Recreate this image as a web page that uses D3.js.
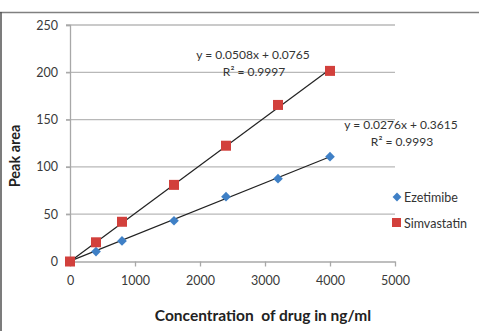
<!DOCTYPE html>
<html><head><meta charset="utf-8">
<script src="https://cdn.jsdelivr.net/npm/d3@7"></script>
<style>body{margin:0;background:#fff}svg{display:block}</style>
</head><body>
<script>
const concentrations = [0, 400, 800, 1600, 2400, 3200, 4000];
const ezetimibe = [0, 10.5, 21.7, 43.1, 68.5, 87.5, 110.8];
const simvastatin = [0, 20.3, 42, 81, 122.4, 165.5, 201.5];
const xTicks = [0, 1000, 2000, 3000, 4000, 5000];
const yTicks = [0, 50, 100, 150, 200, 250];
const trends = [
  {name: "Ezetimibe", slope: 0.0276, intercept: 0.3615, eq: "y = 0.0276x + 0.3615", r2: "R² = 0.9993"},
  {name: "Simvastatin", slope: 0.0508, intercept: 0.0765, eq: "y = 0.0508x + 0.0765", r2: "R² = 0.9997"}
];

const W = 479, H = 331;
const font = "Lato, 'Open Sans', sans-serif";
const svg = d3.select("body").append("svg").attr("width", W).attr("height", H);
svg.append("rect").attr("width", W).attr("height", H).attr("fill", "#fff");
// frame
svg.append("line").attr("x1", 0).attr("x2", W).attr("y1", 12.5).attr("y2", 12.5).attr("stroke", "#808080").attr("stroke-width", 1.5);
svg.append("line").attr("x1", 1).attr("x2", 1).attr("y1", 12).attr("y2", H).attr("stroke", "#505050").attr("stroke-width", 1.5);

const x = d3.scaleLinear().domain([0, 5000]).range([70, 395]);
const y = d3.scaleLinear().domain([0, 250]).range([261.5, 25]);
const fmt = d3.format("d");

// gridlines
svg.append("g").selectAll("line").data(yTicks.filter(d => d > 0)).join("line")
  .attr("x1", 66).attr("x2", x(5000)).attr("y1", d => y(d)).attr("y2", d => y(d))
  .attr("stroke", "#b8b8b8").attr("stroke-width", 1.3);

// y axis
const yAxis = svg.append("g").attr("transform", `translate(${x(0)},0)`)
  .call(d3.axisLeft(y).tickValues(yTicks).tickFormat(fmt).tickSize(4).tickPadding(8));
yAxis.select(".domain").attr("stroke", "#a8a8a8").attr("stroke-width", 1.3);
yAxis.selectAll(".tick line").attr("stroke", "#a8a8a8").attr("stroke-width", 1.3);
yAxis.selectAll("text").attr("font-family", font).attr("font-size", 12.5).attr("fill", "#3a3a3a");

// x axis
const xAxis = svg.append("g").attr("transform", `translate(0,${y(0)})`)
  .call(d3.axisBottom(x).tickValues(xTicks).tickFormat(fmt).tickSize(5).tickPadding(10).tickSizeOuter(0));
xAxis.select(".domain").attr("stroke", "#a8a8a8").attr("stroke-width", 1.3);
xAxis.selectAll(".tick line").attr("stroke", "#a8a8a8").attr("stroke-width", 1.3);
xAxis.selectAll("text").attr("font-family", font).attr("font-size", 12.5).attr("fill", "#3a3a3a");

// trend lines
svg.append("g").selectAll("line").data(trends).join("line")
  .attr("x1", x(0)).attr("y1", d => y(d.intercept))
  .attr("x2", x(4000)).attr("y2", d => y(d.slope * 4000 + d.intercept))
  .attr("stroke", "#222").attr("stroke-width", 1.2);

const blue = "#3f80c6", red = "#d2403c";
// markers
const pts = concentrations.map((c, i) => ({c, e: ezetimibe[i], s: simvastatin[i]}));
svg.append("g").selectAll("path").data(pts).join("path")
  .attr("d", d3.symbol(d3.symbolDiamond2, 60))
  .attr("transform", d => `translate(${x(d.c)},${y(d.e)})`)
  .attr("fill", blue);
svg.append("g").selectAll("rect").data(pts).join("rect")
  .attr("x", d => x(d.c) - 5).attr("y", d => y(d.s) - 5).attr("width", 10).attr("height", 10)
  .attr("fill", red);

// equation labels
const eqPos = [{cx: 401, y1: 129, y2: 146}, {cx: 253, y1: 59, y2: 76}];
trends.forEach((t, i) => {
  svg.append("text").attr("x", eqPos[i].cx).attr("y", eqPos[i].y1).attr("text-anchor", "middle")
    .attr("font-family", font).attr("font-size", 12).attr("fill", "#333").text(t.eq);
  svg.append("text").attr("x", eqPos[i].cx + 1).attr("y", eqPos[i].y2).attr("text-anchor", "middle")
    .attr("font-family", font).attr("font-size", 12).attr("fill", "#333").text(t.r2);
});

// legend
const lg = svg.append("g");
lg.append("path").attr("d", d3.symbol(d3.symbolDiamond2, 50)).attr("transform", "translate(397,197)").attr("fill", blue);
lg.append("rect").attr("x", 392).attr("y", 218).attr("width", 9).attr("height", 9).attr("fill", red);
lg.selectAll("text").data(trends).join("text")
  .attr("x", 404).attr("y", (d, i) => 201.5 + i * 26)
  .attr("font-family", font).attr("font-size", 12.5).attr("fill", "#333").text(d => d.name);

// axis titles
svg.append("text").attr("x", 263).attr("y", 321).attr("text-anchor", "middle")
  .attr("font-family", font).attr("font-size", 15.5).attr("font-weight", "bold").attr("fill", "#222")
  .style("white-space", "pre")
  .text("Concentration  of drug in ng/ml");
svg.append("text").attr("transform", "translate(20,156) rotate(-90)").attr("text-anchor", "middle")
  .attr("font-family", font).attr("font-size", 14.5).attr("font-weight", "bold").attr("fill", "#222")
  .text("Peak area");
</script>
</body></html>
